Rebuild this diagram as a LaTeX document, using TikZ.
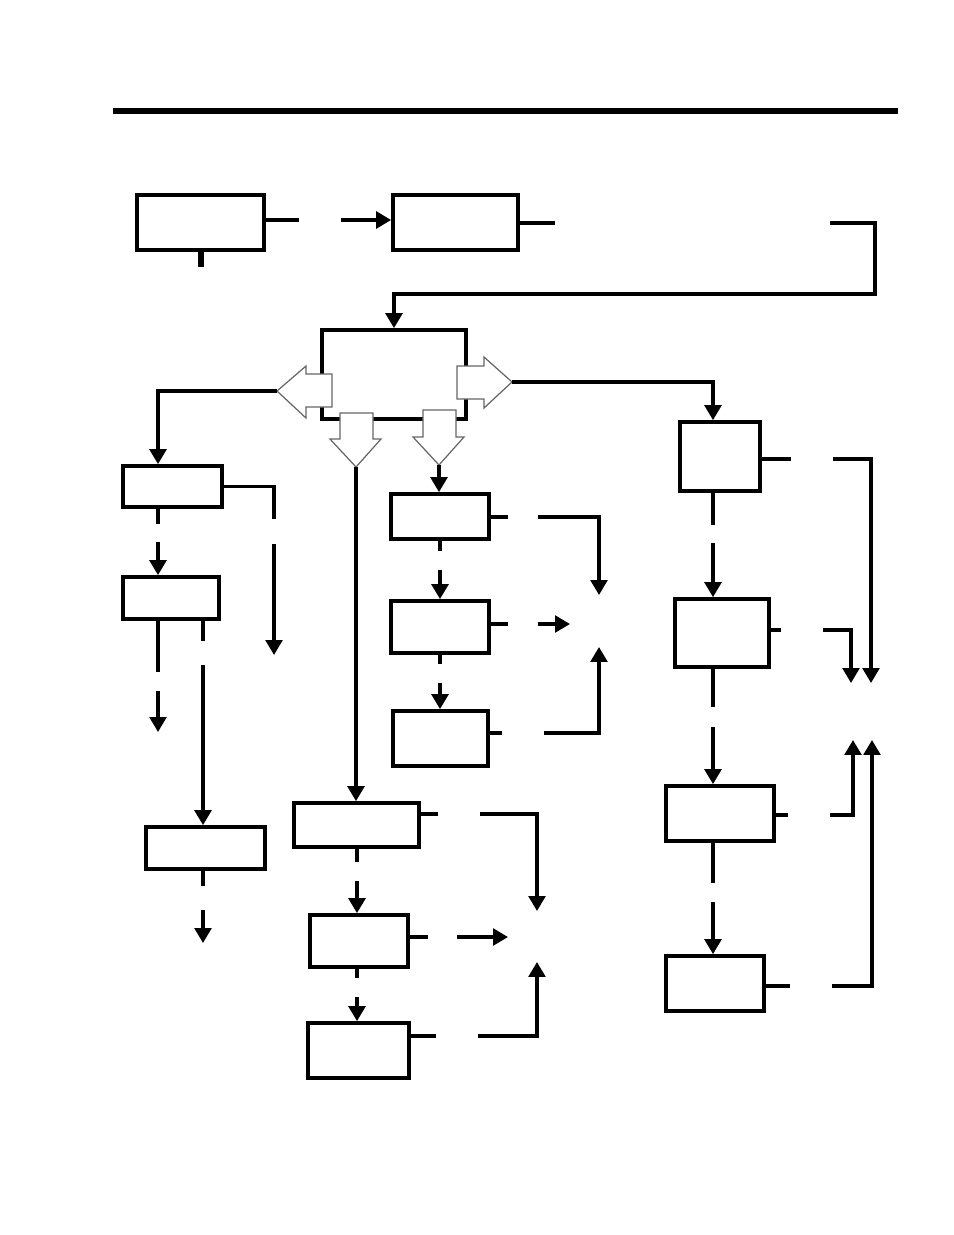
\documentclass[tikz,border=0pt]{standalone}
\usepackage{tikz}
\usetikzlibrary{arrows.meta,fit}

\begin{document}
\begin{tikzpicture}[
    x=0.02cm, y=-0.02cm,
    line/.style={line width=1.9pt},
    arrow/.style={line, ->, >={Triangle[length=8.5pt, width=9.5pt]}},
    block/.style={rectangle, draw, line width=2.1pt, fill=white, inner sep=0pt},
    hollow/.style={draw=black!60, fill=white, line width=0.7pt}
]
    \useasboundingbox (0,0) rectangle (954,1235);

    % Header rule
    \draw [line width=3.4pt] (113,111) -- (898,111);

    % Top row
    \node [block, fit={(137,195) (264,250)}] (top1) {};
    \node [block, fit={(393,195) (518,250)}] (top2) {};
    \node [block, fit={(322,330) (466,419)}] (hub) {};

    % Left column
    \node [block, fit={(123,466) (222,507)}] (l1) {};
    \node [block, fit={(123,577) (219,619)}] (l2) {};
    \node [block, fit={(146,827) (265,869)}] (l3) {};

    % Middle columns
    \node [block, fit={(391,494) (489,539)}] (p1) {};
    \node [block, fit={(391,601) (489,653)}] (p2) {};
    \node [block, fit={(393,711) (488,766)}] (p3) {};
    \node [block, fit={(294,803) (419,847)}] (q1) {};
    \node [block, fit={(310,915) (408,967)}] (q2) {};
    \node [block, fit={(308,1023) (409,1078)}] (q3) {};

    % Right column
    \node [block, fit={(680,422) (760,491)}] (r1) {};
    \node [block, fit={(675,599) (769,667)}] (r2) {};
    \node [block, fit={(666,786) (774,841)}] (r3) {};
    \node [block, fit={(666,956) (764,1011)}] (r4) {};

    % Hollow arrows out of the hub
    \draw [hollow] (332,374) -- (306,374) -- (306,366) -- (277,391) -- (306,418) -- (306,407) -- (332,407) -- cycle;
    \draw [hollow] (457,366) -- (484,366) -- (484,357) -- (512,382) -- (484,408) -- (484,399) -- (457,399) -- cycle;
    \draw [hollow] (340,413) -- (373,413) -- (373,439) -- (381,439) -- (356,467) -- (330,439) -- (340,439) -- cycle;
    \draw [hollow] (423,410) -- (456,410) -- (456,437) -- (464,437) -- (439,465) -- (413,437) -- (423,437) -- cycle;
    \coordinate (hl) at (277,391);
    \coordinate (hr) at (512,382);
    \coordinate (hd1) at (356,467);
    \coordinate (hd2) at (439,465);

    % Gap ends
    \coordinate (t1) at (299,220);  \coordinate (t2) at (341,220);
    \coordinate (t3) at (201,267);
    \coordinate (t4) at (555,223);  \coordinate (t5) at (830,223);
    \coordinate (t6) at (875,294);
    \coordinate (l1a) at (158,524); \coordinate (l1b) at (158,542);
    \coordinate (l1c) at (274,519); \coordinate (l1d) at (274,544);
    \coordinate (l1e) at (274,655);
    \coordinate (l2a) at (158,672); \coordinate (l2b) at (158,691);
    \coordinate (l2c) at (158,732);
    \coordinate (l2d) at (203,641); \coordinate (l2e) at (203,665);
    \coordinate (l3a) at (203,886); \coordinate (l3b) at (203,910);
    \coordinate (l3c) at (203,943);
    \coordinate (pa) at (508,517);  \coordinate (pb) at (538,517);
    \coordinate (pc) at (599,595);
    \coordinate (pd) at (440,551);  \coordinate (pe) at (440,570);
    \coordinate (pf) at (508,624);  \coordinate (pg) at (538,624);
    \coordinate (ph) at (570,624);
    \coordinate (pi) at (440,664);  \coordinate (pj) at (440,683);
    \coordinate (pk) at (502,733);  \coordinate (pl) at (544,733);
    \coordinate (pm) at (599,647);
    \coordinate (qa) at (438,814);  \coordinate (qb) at (480,814);
    \coordinate (qc) at (537,911);
    \coordinate (qd) at (357,862);  \coordinate (qe) at (357,881);
    \coordinate (qf) at (428,937);  \coordinate (qg) at (457,937);
    \coordinate (qh) at (508,937);
    \coordinate (qi) at (357,978);  \coordinate (qj) at (357,997);
    \coordinate (qk) at (436,1036); \coordinate (ql) at (478,1036);
    \coordinate (qm) at (537,962);
    \coordinate (ra) at (791,459);  \coordinate (rb) at (833,459);
    \coordinate (rc) at (871,683);
    \coordinate (rd) at (713,525);  \coordinate (re) at (713,543);
    \coordinate (rf) at (781,630);  \coordinate (rg) at (823,630);
    \coordinate (rh) at (851,683);
    \coordinate (ri) at (713,707);  \coordinate (rj) at (713,727);
    \coordinate (rk) at (788,815);  \coordinate (rl) at (830,815);
    \coordinate (rm) at (853,740);
    \coordinate (rn) at (713,883);  \coordinate (ro) at (713,902);
    \coordinate (rp) at (790,986);  \coordinate (rq) at (832,986);
    \coordinate (rr) at (872,740);

    % Connections, top
    \draw [line] (top1.east |- t1) -- (t1);
    \draw [arrow] (t2) -- (top2.west |- t2);
    \draw [line, line width=3.4pt] (top1.south -| t3) -- (t3);
    \draw [line] (top2.east |- t4) -- (t4);
    \draw [arrow] (t5) -| (t6) -| (hub.north);
    \draw [arrow] (hl) -| (l1.north -| l1a);
    \draw [arrow] (hr) -| (r1.north -| rd);
    \draw [arrow] (hd1) -- (hd1 |- q1.north);
    \draw [arrow] (hd2) -- (hd2 |- p1.north);

    % Connections, left
    \draw [line] (l1.south -| l1a) -- (l1a);
    \draw [arrow] (l1b) -- (l1b |- l2.north);
    \draw [line] (l1.east) -| (l1c);
    \draw [arrow] (l1d) -- (l1e);
    \draw [line] (l2.south -| l2a) -- (l2a);
    \draw [arrow] (l2b) -- (l2c);
    \draw [line] (l2.south -| l2d) -- (l2d);
    \draw [arrow] (l2e) -- (l2e |- l3.north);
    \draw [line] (l3.south -| l3a) -- (l3a);
    \draw [arrow] (l3b) -- (l3c);

    % Connections, middle
    \draw [line] (p1.east |- pa) -- (pa);
    \draw [arrow] (pb) -| (pc);
    \draw [line] (p1.south -| pd) -- (pd);
    \draw [arrow] (pe) -- (pe |- p2.north);
    \draw [line] (p2.east |- pf) -- (pf);
    \draw [arrow] (pg) -- (ph);
    \draw [line] (p2.south -| pi) -- (pi);
    \draw [arrow] (pj) -- (pj |- p3.north);
    \draw [line] (p3.east |- pk) -- (pk);
    \draw [arrow] (pl) -| (pm);
    \draw [line] (q1.east |- qa) -- (qa);
    \draw [arrow] (qb) -| (qc);
    \draw [line] (q1.south -| qd) -- (qd);
    \draw [arrow] (qe) -- (qe |- q2.north);
    \draw [line] (q2.east |- qf) -- (qf);
    \draw [arrow] (qg) -- (qh);
    \draw [line] (q2.south -| qi) -- (qi);
    \draw [arrow] (qj) -- (qj |- q3.north);
    \draw [line] (q3.east |- qk) -- (qk);
    \draw [arrow] (ql) -| (qm);

    % Connections, right
    \draw [line] (r1.east |- ra) -- (ra);
    \draw [arrow] (rb) -| (rc);
    \draw [line] (r1.south -| rd) -- (rd);
    \draw [arrow] (re) -- (re |- r2.north);
    \draw [line] (r2.east |- rf) -- (rf);
    \draw [arrow] (rg) -| (rh);
    \draw [line] (r2.south -| ri) -- (ri);
    \draw [arrow] (rj) -- (rj |- r3.north);
    \draw [line] (r3.east |- rk) -- (rk);
    \draw [arrow] (rl) -| (rm);
    \draw [line] (r3.south -| rn) -- (rn);
    \draw [arrow] (ro) -- (ro |- r4.north);
    \draw [line] (r4.east |- rp) -- (rp);
    \draw [arrow] (rq) -| (rr);
\end{tikzpicture}
\end{document}
